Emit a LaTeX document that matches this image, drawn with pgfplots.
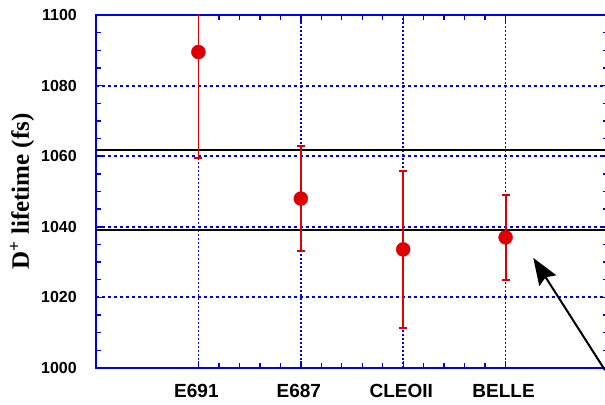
\documentclass[border=0pt]{standalone}
\usepackage{fontspec}
\setmainfont{Liberation Sans}
\newfontfamily\serifb{Liberation Serif}
\usepackage{pgfplots}
\pgfplotsset{compat=1.18}
\usetikzlibrary{arrows.meta}
\definecolor{myred}{RGB}{222,0,0}
\definecolor{myblue}{RGB}{0,0,240}
\begin{document}
\begin{tikzpicture}
\begin{axis}[
  scale only axis, width=512pt, height=353pt,
  xmin=0, xmax=5, ymin=1000, ymax=1100,
  xtick={1,2,3,4}, xticklabels={E691,E687,CLEOII,BELLE},
  ytick={1000,1020,1040,1060,1080,1100},
  minor x tick num=4, minor y tick num=3,
  tick align=inside,
  major tick length=7pt, minor tick length=5pt,
  axis line style={myblue, line width=2pt},
  tick style={myblue, line width=1.4pt},
  xmajorgrids, ymajorgrids,
  grid style={myblue},
  major x grid style={myblue, line width=1.5pt, dash pattern=on 2pt off 2pt},
  major y grid style={myblue, line width=2pt, dash pattern=on 3pt off 3pt},
  /pgf/number format/assume math mode=true,
  /pgf/number format/set thousands separator={},
  yticklabel style={font=\bfseries\fontsize{16}{16}\selectfont, inner sep=0pt, xshift=-19pt},
  xticklabel style={font=\bfseries\fontsize{19}{19}\selectfont, inner sep=0pt, yshift=-16pt, xshift=-2pt},
  ylabel={\serifb\bfseries D\textsuperscript{+} lifetime (fs)},
  ylabel style={font=\fontsize{25}{25}\selectfont, at={(axis description cs:-0.1445,0.5)}, anchor=center},
]
\addplot[black, line width=1.4pt] coordinates {(0,1061.7) (5,1061.7)};
\addplot[black, line width=1.4pt] coordinates {(0,1039.1) (5,1039.1)};
\addplot[myred, only marks, mark=*, mark size=7pt, mark options={fill=myred, draw=myred},
  error bars/.cd, y dir=both, y explicit,
  error bar style={draw=myred, line width=1.8pt},
  error mark options={rotate=90, mark size=4pt, draw=myred, line width=1.8pt}]
  coordinates {
  (1,1089.5) +- (0,30)
  (2,1048.0) +- (0,14.8)
  (3,1033.6) +- (0,22.2)
  (4,1037.0) +- (0,12.0)
};
\coordinate (A) at (axis cs:4.97,999.4);
\coordinate (B) at (axis cs:4.27,1031.2);
\end{axis}
\draw[black, line width=2pt, -{Stealth[length=27pt, width=20pt, inset=4pt]}] (A) -- (B);
\pgfresetboundingbox
\path ([xshift=-96pt,yshift=-36pt]current axis.south west) rectangle ([xshift=-3pt,yshift=15pt]current axis.north east);
\end{tikzpicture}
\end{document}
